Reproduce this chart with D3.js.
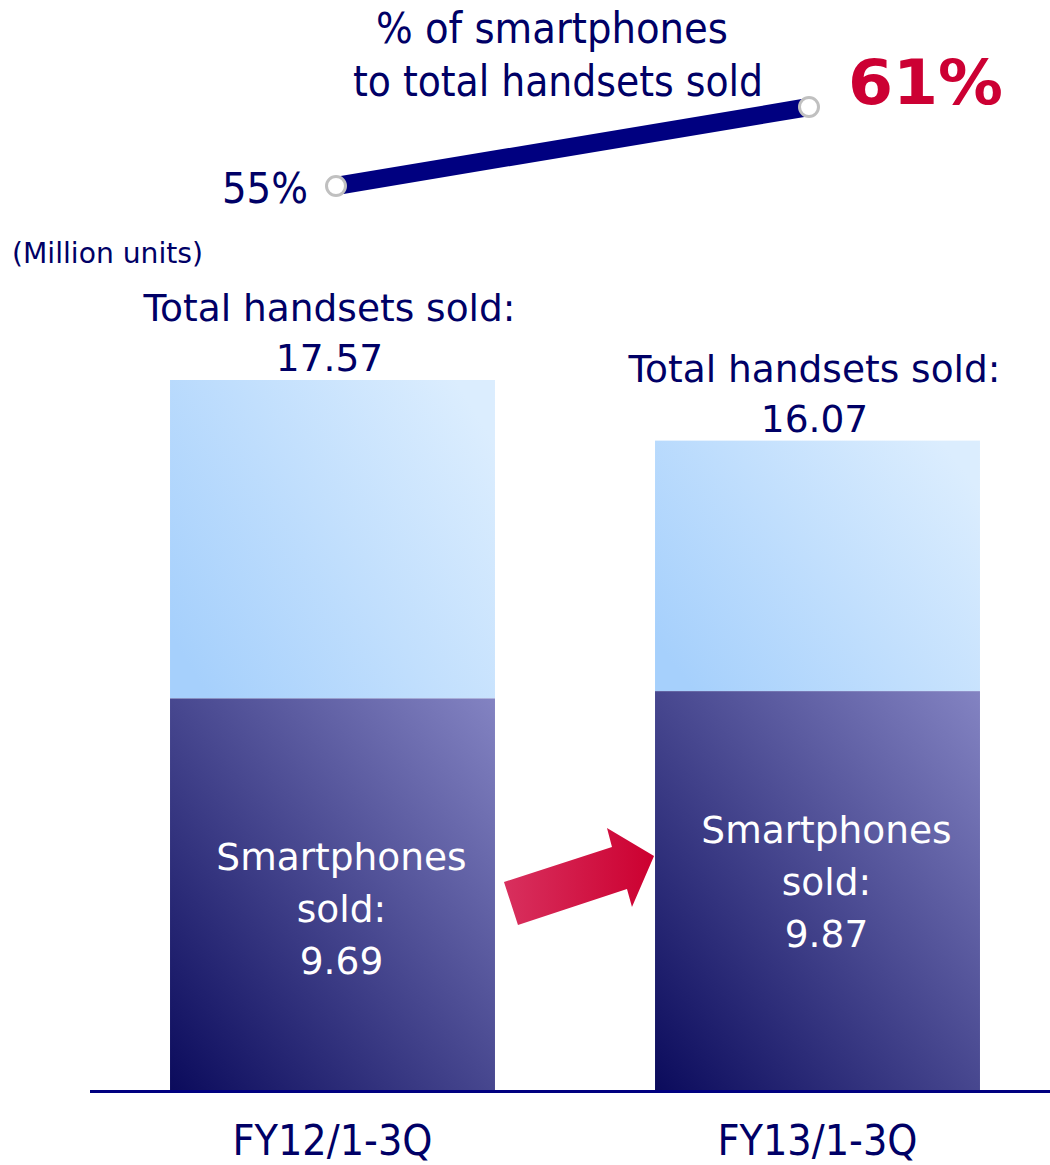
<!DOCTYPE html>
<html>
<head>
<meta charset="utf-8">
<script src="https://cdn.jsdelivr.net/npm/d3@7"></script>
<style>
  html, body { margin: 0; padding: 0; background: #ffffff; }
  svg { display: block; }
</style>
</head>
<body>
<svg id="chart" width="1050" height="1165"></svg>
<script>
// Handset sales, first three quarters of each fiscal year (million units)
const categories = ["FY12/1-3Q", "FY13/1-3Q"];
const totalHandsets = [17.57, 16.07];
const smartphonesSold = [9.69, 9.87];
const smartphoneShare = [55, 61];   // % of smartphones to total handsets sold

const navy = "#000066";
const red = "#cc0033";
const sansFont = "'DejaVu Sans', Verdana, sans-serif";
const narrowFont = "'Liberation Sans Narrow', 'DejaVu Sans Condensed', 'Liberation Sans', Arial, sans-serif";

const svg = d3.select("#chart");
const defs = svg.append("defs");

function diagGradient(id, from, to, x1, y1, x2, y2) {
  const g = defs.append("linearGradient")
    .attr("id", id)
    .attr("x1", x1).attr("y1", y1).attr("x2", x2).attr("y2", y2);
  g.append("stop").attr("offset", "0%").attr("stop-color", from);
  g.append("stop").attr("offset", "100%").attr("stop-color", to);
}
diagGradient("gradOther", "#a6d0fc", "#dbedfe", 0, 0.8, 1, 0.2);
diagGradient("gradSmart", "#0b0b5c", "#8383c2", 0, 1, 1, 0);

const arrowGrad = defs.append("linearGradient")
  .attr("id", "gradArrow")
  .attr("x1", 0).attr("y1", 0).attr("x2", 1).attr("y2", 0);
arrowGrad.append("stop").attr("offset", "0%").attr("stop-color", "#d8305e");
arrowGrad.append("stop").attr("offset", "100%").attr("stop-color", "#cc0030");

// Scales
const x = d3.scaleBand()
  .domain(categories)
  .range([90, 1060])
  .paddingInner(0.33)
  .paddingOuter(0.165);

const y = d3.scaleLinear()
  .domain([0, d3.max(totalHandsets)])
  .range([1090, 380]);

const rows = categories.map((c, i) => ({
  cat: c, total: totalHandsets[i], smart: smartphonesSold[i]
}));

// Stacked bars: smartphones at the bottom, other handsets above
const bars = svg.append("g");
bars.selectAll("rect.other")
  .data(rows).join("rect")
  .attr("class", "other")
  .attr("x", d => x(d.cat))
  .attr("width", x.bandwidth())
  .attr("y", d => y(d.total))
  .attr("height", d => y(d.smart) - y(d.total))
  .attr("fill", "url(#gradOther)");

bars.selectAll("rect.smart")
  .data(rows).join("rect")
  .attr("class", "smart")
  .attr("x", d => x(d.cat))
  .attr("width", x.bandwidth())
  .attr("y", d => y(d.smart))
  .attr("height", d => y(0) - y(d.smart))
  .attr("fill", "url(#gradSmart)");

// Baseline
svg.append("line")
  .attr("x1", 90).attr("x2", 1050)
  .attr("y1", y(0) + 1.5).attr("y2", y(0) + 1.5)
  .attr("stroke", "#000080").attr("stroke-width", 3);

// Category labels
svg.append("g").selectAll("text")
  .data(categories).join("text")
  .attr("x", d => x(d) + x.bandwidth() / 2)
  .attr("y", 1155)
  .attr("text-anchor", "middle")
  .attr("font-family", narrowFont)
  .attr("font-size", 43)
  .attr("textLength", 200)
  .attr("lengthAdjust", "spacingAndGlyphs")
  .attr("fill", navy)
  .text(d => d);

// Totals above each bar
const totalLabels = svg.append("g").selectAll("g")
  .data(rows).join("g")
  .attr("transform", d => `translate(${x(d.cat) + x.bandwidth() / 2 - 3},${y(d.total)})`);
totalLabels.append("text")
  .attr("y", -59)
  .attr("text-anchor", "middle")
  .attr("font-family", sansFont)
  .attr("font-size", 37.5)
  .attr("fill", navy)
  .text("Total handsets sold:");
totalLabels.append("text")
  .attr("y", -9)
  .attr("text-anchor", "middle")
  .attr("font-family", sansFont)
  .attr("font-size", 37.5)
  .attr("fill", navy)
  .text(d => d3.format(".2f")(d.total));

// Smartphone labels inside the dark segments
const smartLabelDy = [172, 152];
const smartLabels = svg.append("g").selectAll("text")
  .data(rows).join("text")
  .attr("text-anchor", "middle")
  .attr("font-family", sansFont)
  .attr("font-size", 37.5)
  .attr("fill", "#ffffff");
smartLabels.each(function(d, i) {
  const t = d3.select(this);
  const cx = x(d.cat) + x.bandwidth() / 2 + 9;
  const top = y(d.smart) + smartLabelDy[i];
  ["Smartphones", "sold:", d3.format(".2f")(d.smart)].forEach((s, k) => {
    t.append("tspan").attr("x", cx).attr("y", top + k * 52).text(s);
  });
});

// Growth arrow between the smartphone segments
const ax0 = x(categories[0]) + x.bandwidth();
const ax1 = x(categories[1]);
const arrowPts = [
  [ax0 + 9, 882], [ax0 + 23, 925], [ax0 + 132, 889], [ax0 + 137, 907],
  [ax1 - 1, 856], [ax0 + 112, 828], [ax0 + 117, 847]
];
svg.append("polygon")
  .attr("points", arrowPts.map(p => p.join(",")).join(" "))
  .attr("fill", "url(#gradArrow)");

// Unit note
svg.append("text")
  .attr("x", 12).attr("y", 263)
  .attr("font-family", sansFont)
  .attr("font-size", 28)
  .attr("textLength", 191)
  .attr("lengthAdjust", "spacingAndGlyphs")
  .attr("fill", navy)
  .text("(Million units)");

// Smartphone share line
const sx = d3.scalePoint().domain(categories).range([336, 809]);
const sy = d3.scaleLinear().domain([55, 61]).range([186, 107]);
const sharePts = categories.map((c, i) => [sx(c), sy(smartphoneShare[i])]);

svg.append("path")
  .attr("d", d3.line()(sharePts))
  .attr("fill", "none")
  .attr("stroke", "#000080")
  .attr("stroke-width", 18);

svg.append("g").selectAll("circle")
  .data(sharePts).join("circle")
  .attr("cx", d => d[0]).attr("cy", d => d[1])
  .attr("r", 9.5)
  .attr("fill", "#ffffff")
  .attr("stroke", "#c0c0c0")
  .attr("stroke-width", 3);

svg.append("text")
  .attr("x", 308).attr("y", 203)
  .attr("text-anchor", "end")
  .attr("font-family", narrowFont)
  .attr("font-size", 43)
  .attr("textLength", 86)
  .attr("lengthAdjust", "spacingAndGlyphs")
  .attr("fill", navy)
  .text(smartphoneShare[0] + "%");

svg.append("text")
  .attr("x", 848).attr("y", 104)
  .attr("font-family", sansFont)
  .attr("font-weight", "bold")
  .attr("font-size", 63)
  .attr("textLength", 155)
  .attr("lengthAdjust", "spacingAndGlyphs")
  .attr("fill", red)
  .text(smartphoneShare[1] + "%");

// Title of the share line
const title = svg.append("text")
  .attr("text-anchor", "middle")
  .attr("font-family", narrowFont)
  .attr("font-size", 42)
  .attr("fill", navy);
title.append("tspan").attr("x", 552).attr("y", 43)
  .attr("textLength", 352).attr("lengthAdjust", "spacingAndGlyphs")
  .text("% of smartphones");
title.append("tspan").attr("x", 558).attr("y", 96)
  .attr("textLength", 410).attr("lengthAdjust", "spacingAndGlyphs")
  .text("to total handsets sold");
</script>
</body>
</html>
